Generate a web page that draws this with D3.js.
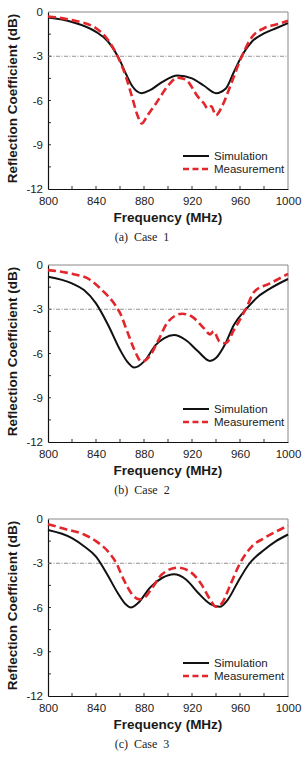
<!DOCTYPE html>
<html>
<head>
<meta charset="utf-8">
<script src="https://d3js.org/d3.v7.min.js"></script>
<style>
  body { margin: 0; background: #fff; }
  .tick text { font-family: "Liberation Sans", Arial, sans-serif; font-size: 11.5px; fill: #222; }
  .axtitle { font-family: "Liberation Sans", Arial, sans-serif; font-weight: bold; font-size: 13.5px; fill: #1a1a1a; }
  .legend text { font-family: "Liberation Sans", Arial, sans-serif; font-size: 11.5px; fill: #222; }
  .caption { font-family: "Liberation Serif", "Times New Roman", serif; font-size: 12px; fill: #222; }
</style>
</head>
<body>
<svg width="302" height="759"></svg>
<script>
// frequency (MHz) / reflection coefficient (dB)
var sim1F = [800, 820, 840, 850, 860, 865, 870, 878, 885, 895, 908, 920, 930, 940, 948, 955, 962, 970, 980, 990, 1000];
var sim1V = [-0.38, -0.68, -1.35, -2.0, -3.3, -4.2, -5.0, -5.5, -5.3, -4.75, -4.3, -4.5, -5.0, -5.5, -5.2, -4.05, -2.9, -2.0, -1.45, -1.1, -0.75];
var mea1F = [800, 820, 840, 850, 858, 865, 870, 875, 878, 883, 890, 900, 908, 915, 925, 930, 933, 936, 940, 945, 952, 960, 965, 970, 980, 990, 1000];
var mea1V = [-0.3, -0.55, -1.1, -1.9, -3.0, -4.4, -5.75, -7.1, -7.55, -7.0, -6.2, -5.0, -4.45, -4.6, -5.75, -6.2, -6.55, -6.4, -7.0, -6.4, -5.0, -3.3, -2.4, -1.7, -1.1, -0.85, -0.6];

var sim2F = [800, 820, 830, 840, 850, 860, 866, 872, 880, 890, 897, 905, 915, 925, 935, 940, 948, 955, 965, 975, 985, 1000];
var sim2V = [-0.8, -1.25, -1.7, -2.6, -4.05, -5.75, -6.55, -6.95, -6.55, -5.4, -4.95, -4.75, -5.1, -5.85, -6.5, -6.3, -5.3, -4.05, -3.0, -2.15, -1.6, -0.95];
var mea2F = [800, 820, 835, 845, 855, 860, 866, 872, 878, 885, 892, 900, 912, 920, 930, 935, 938, 943, 948, 955, 965, 972, 985, 1000];
var mea2V = [-0.35, -0.6, -1.0, -1.7, -2.6, -3.25, -4.5, -5.75, -6.55, -6.15, -5.1, -3.85, -3.3, -3.5, -4.3, -4.7, -4.5, -5.2, -5.3, -4.4, -2.95, -1.8, -1.25, -0.6];

var sim3F = [800, 820, 830, 840, 850, 858, 865, 869, 875, 885, 895, 905, 915, 925, 935, 943, 950, 958, 968, 980, 990, 1000];
var sim3V = [-0.75, -1.3, -1.85, -2.55, -3.85, -5.0, -5.8, -6.0, -5.7, -4.65, -4.0, -3.75, -4.1, -5.0, -5.75, -5.95, -5.45, -4.3, -3.0, -2.1, -1.5, -1.05];
var mea3F = [800, 815, 830, 840, 850, 857, 863, 870, 876, 880, 887, 895, 908, 918, 928, 935, 940, 945, 952, 960, 970, 980, 990, 1000];
var mea3V = [-0.35, -0.7, -1.05, -1.5, -2.2, -3.0, -4.1, -5.1, -5.45, -5.35, -4.65, -3.75, -3.3, -3.55, -4.45, -5.45, -5.95, -5.7, -4.45, -3.0, -1.85, -1.3, -0.85, -0.45];

var xTicks = [800, 840, 880, 920, 960, 1000];
var yTicks = [0, -3, -6, -9, -12];
var captions = ["(a)  Case  1", "(b)  Case  2", "(c)  Case  3"];
var seriesNames = ["Simulation", "Measurement"];

var panels = [
  {sim: [sim1F, sim1V], mea: [mea1F, mea1V], top: 12},
  {sim: [sim2F, sim2V], mea: [mea2F, mea2V], top: 265},
  {sim: [sim3F, sim3V], mea: [mea3F, mea3V], top: 519}
];

var svg = d3.select("svg");
var left = 48, width = 240, height = 177;
var red = "#e3262b";

var x = d3.scaleLinear().domain([800, 1000]).range([0, width]);
var y = d3.scaleLinear().domain([-12, 0]).range([height, 0]);

function pts(s) {
  return s[0].map(function(f, i) { return {f: f, v: s[1][i]}; });
}

var line = d3.line()
  .x(function(d) { return x(d.f); })
  .y(function(d) { return y(d.v); })
  .curve(d3.curveMonotoneX);

panels.forEach(function(p, i) {
  var g = svg.append("g").attr("transform", "translate(" + left + "," + p.top + ")");

  // frame: top/right gray
  g.append("path")
    .attr("d", "M0,0H" + width + "V" + height)
    .attr("fill", "none").attr("stroke", "#888").attr("stroke-width", 1);

  // minor inward ticks
  g.append("g").selectAll("line").data(d3.range(820, 1000, 20)).enter().append("line")
    .attr("x1", function(d) { return x(d); }).attr("x2", function(d) { return x(d); })
    .attr("y1", height).attr("y2", height - 3)
    .attr("stroke", "#333");
  g.append("g").selectAll("line").data(d3.range(-10.5, 0, 1.5)).enter().append("line")
    .attr("y1", function(d) { return y(d); }).attr("y2", function(d) { return y(d); })
    .attr("x1", 0).attr("x2", 3)
    .attr("stroke", "#333");

  var xAxis = g.append("g")
    .attr("transform", "translate(0," + height + ")")
    .call(d3.axisBottom(x).tickValues(xTicks).tickSize(0).tickPadding(8).tickFormat(function(d) { return String(d); }));
  xAxis.select(".domain").attr("stroke", "#111").attr("stroke-width", 1.2);

  var yAxis = g.append("g")
    .call(d3.axisLeft(y).tickValues(yTicks).tickSize(0).tickPadding(5).tickFormat(function(d) { return String(d); }));
  yAxis.select(".domain").attr("stroke", "#111").attr("stroke-width", 1.2);

  // -3 dB reference
  g.append("line")
    .attr("x1", 0).attr("x2", width)
    .attr("y1", y(-3)).attr("y2", y(-3))
    .attr("stroke", "#777").attr("stroke-width", 0.8)
    .attr("stroke-dasharray", "4,1.5,1,1.5");

  g.append("path").datum(pts(p.sim))
    .attr("fill", "none").attr("stroke", "#111").attr("stroke-width", 2)
    .attr("d", line);
  g.append("path").datum(pts(p.mea))
    .attr("fill", "none").attr("stroke", red).attr("stroke-width", 2.6)
    .attr("stroke-dasharray", "8,4")
    .attr("d", line);

  // legend
  var lg = g.append("g").attr("class", "legend");
  lg.append("line").attr("x1", 135).attr("x2", 161).attr("y1", 144).attr("y2", 144)
    .attr("stroke", "#111").attr("stroke-width", 2);
  lg.append("line").attr("x1", 135).attr("x2", 161).attr("y1", 157).attr("y2", 157)
    .attr("stroke", red).attr("stroke-width", 2.6).attr("stroke-dasharray", "6,3.5");
  lg.selectAll("text").data(seriesNames).enter().append("text")
    .attr("x", 166).attr("y", function(d, k) { return 148 + k * 13; })
    .text(function(d) { return d; });

  g.append("text").attr("class", "axtitle")
    .attr("x", width / 2).attr("y", height + 33)
    .attr("text-anchor", "middle")
    .text("Frequency (MHz)");

  g.append("text").attr("class", "axtitle")
    .attr("transform", "translate(-31," + (height / 2 - 2) + ") rotate(-90)")
    .attr("text-anchor", "middle")
    .text("Reflection Coefficient (dB)");

  g.append("text").attr("class", "caption")
    .attr("x", 94).attr("y", height + 52)
    .attr("text-anchor", "middle")
    .attr("xml:space", "preserve")
    .style("white-space", "pre")
    .text(captions[i]);
});
</script>
</body>
</html>
